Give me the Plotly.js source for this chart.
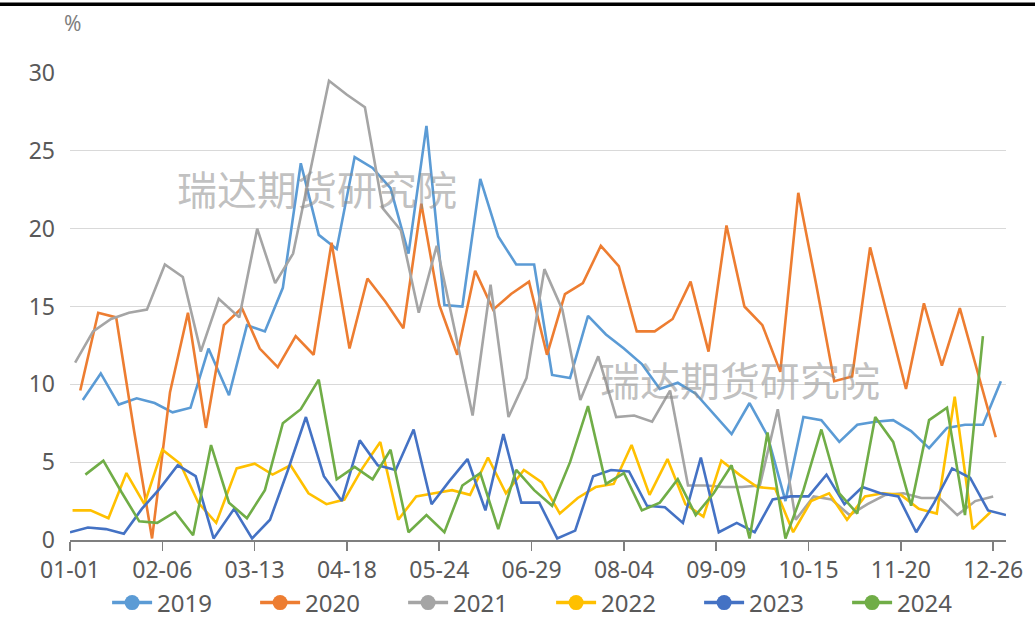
<!DOCTYPE html>
<html>
<head>
<meta charset="utf-8">
<script src="https://cdn.plot.ly/plotly-3.0.1.min.js"></script>
<style>html,body{margin:0;padding:0;background:#fff;}#chart{width:1035px;height:620px;}</style>
</head>
<body>
<div id="chart"></div>
<script>
// Series names and colours
const years = ["2019", "2020", "2021", "2022", "2023", "2024"];
const colors = ["#5B9BD5", "#ED7D31", "#A5A5A5", "#FFC000", "#4472C4", "#70AD47"];

// Weekly dates (month-day) of each year's observations
const d2019 = ["01-06","01-13","01-20","01-27","02-03","02-10","02-17","02-24","03-03","03-10","03-17","03-24","03-31","04-07","04-14","04-21","04-28","05-05","05-12","05-19","05-26","06-02","06-09","06-16","06-23","06-30","07-07","07-14","07-21","07-28","08-04","08-11","08-18","08-25","09-01","09-08","09-15","09-22","09-29","10-06","10-13","10-20","10-27","11-03","11-10","11-17","11-24","12-01","12-08","12-15","12-22","12-29"];
const d2020 = ["01-05","01-12","01-19","01-26","02-02","02-09","02-16","02-23","03-01","03-08","03-15","03-22","03-29","04-05","04-12","04-19","04-26","05-03","05-10","05-17","05-24","05-31","06-07","06-14","06-21","06-28","07-05","07-12","07-19","07-26","08-02","08-09","08-16","08-23","08-30","09-06","09-13","09-20","09-27","10-04","10-11","10-18","10-25","11-01","11-08","11-15","11-22","11-29","12-06","12-13","12-20","12-27"];
const d2021 = ["01-03","01-10","01-17","01-24","01-31","02-07","02-14","02-21","02-28","03-07","03-14","03-21","03-28","04-04","04-11","04-18","04-25","05-02","05-09","05-16","05-23","05-30","06-06","06-13","06-20","06-27","07-04","07-11","07-18","07-25","08-01","08-08","08-15","08-22","08-29","09-05","09-12","09-19","09-26","10-03","10-10","10-17","10-24","10-31","11-07","11-14","11-21","11-28","12-05","12-12","12-19","12-26"];
const d2022 = ["01-02","01-09","01-16","01-23","01-30","02-06","02-13","02-20","02-27","03-06","03-13","03-20","03-27","04-03","04-10","04-17","04-24","05-01","05-08","05-15","05-22","05-29","06-05","06-12","06-19","06-26","07-03","07-10","07-17","07-24","07-31","08-07","08-14","08-21","08-28","09-04","09-11","09-18","09-25","10-02","10-09","10-16","10-23","10-30","11-06","11-13","11-20","11-27","12-04","12-11","12-18","12-25"];
const d2023 = ["01-01","01-08","01-15","01-22","01-29","02-05","02-12","02-19","02-26","03-05","03-12","03-19","03-26","04-02","04-09","04-16","04-23","04-30","05-07","05-14","05-21","05-28","06-04","06-11","06-18","06-25","07-02","07-09","07-16","07-23","07-30","08-06","08-13","08-20","08-27","09-03","09-10","09-17","09-24","10-01","10-08","10-15","10-22","10-29","11-05","11-12","11-19","11-26","12-03","12-10","12-17","12-24","12-31"];
const d2024 = ["01-07","01-14","01-21","01-28","02-04","02-11","02-18","02-25","03-03","03-10","03-17","03-24","03-31","04-07","04-14","04-21","04-28","05-05","05-12","05-19","05-26","06-02","06-09","06-16","06-23","06-30","07-07","07-14","07-21","07-28","08-04","08-11","08-18","08-25","09-01","09-08","09-15","09-22","09-29","10-06","10-13","10-20","10-27","11-03","11-10","11-17","11-24","12-01","12-08","12-15","12-22"];

// Values (%)
const v2019 = [9.0,10.7,8.7,9.1,8.8,8.2,8.5,12.3,9.3,13.8,13.4,16.2,24.2,19.6,18.7,24.6,23.9,22.6,18.4,26.6,15.1,15.0,23.2,19.5,17.7,17.7,10.6,10.4,14.4,13.2,12.3,11.3,9.7,10.1,9.4,8.1,6.8,8.8,6.7,2.5,7.9,7.7,6.3,7.4,7.6,7.7,7.0,5.9,7.2,7.4,7.4,10.2];
const v2020 = [9.6,14.6,14.3,7.0,0.1,9.5,14.6,7.2,13.8,14.9,12.3,11.1,13.1,11.9,19.1,12.3,16.8,15.3,13.6,21.6,15.1,11.9,17.3,14.8,15.8,16.6,11.9,15.8,16.5,18.9,17.6,13.4,13.4,14.2,16.6,12.1,20.2,15.0,13.8,10.8,22.3,16.4,10.2,10.5,18.8,14.2,9.7,15.2,11.2,14.9,10.8,6.6];
const v2021 = [11.4,13.4,14.2,14.6,14.8,17.7,16.9,12.1,15.5,14.3,20.0,16.5,18.4,24.0,29.5,28.6,27.8,21.3,19.9,14.6,18.9,13.5,8.0,16.4,7.9,10.4,17.4,14.8,9.0,11.8,7.9,8.0,7.6,9.6,3.5,3.5,3.4,3.4,3.5,8.4,1.3,2.8,2.6,1.6,2.3,2.9,3.0,2.7,2.7,1.6,2.5,2.8];
const v2022 = [1.9,1.9,1.4,4.3,2.3,5.8,4.9,2.4,1.1,4.6,4.9,4.2,4.8,3.0,2.3,2.6,4.6,6.3,1.3,2.8,3.0,3.2,2.9,5.3,3.0,4.5,3.7,1.7,2.7,3.4,3.6,6.1,2.9,5.2,2.3,1.5,5.1,4.2,3.4,3.3,0.5,2.5,3.0,1.3,2.8,3.0,2.9,2.0,1.7,9.2,0.7,1.8];
const v2023 = [0.5,0.8,0.7,0.4,2.0,3.3,4.8,4.1,0.1,2.0,0.1,1.3,4.5,7.9,4.1,2.5,6.4,4.8,4.5,7.1,2.3,3.8,5.2,1.9,6.8,2.4,2.4,0.1,0.6,4.1,4.5,4.4,2.2,2.1,1.1,5.3,0.5,1.1,0.5,2.6,2.8,2.8,4.2,2.3,3.4,3.0,2.8,0.5,2.4,4.6,4.0,1.9,1.6];
const v2024 = [4.2,5.1,3.1,1.2,1.1,1.8,0.3,6.1,2.4,1.4,3.2,7.5,8.4,10.3,3.9,4.7,3.9,5.8,0.5,1.6,0.5,3.5,4.3,0.7,4.5,3.2,2.2,5.0,8.6,3.6,4.3,1.9,2.4,3.9,1.6,3.0,4.8,0.1,6.9,0.1,3.2,7.1,3.0,1.7,7.9,6.3,2.2,7.7,8.5,1.6,13.1];

// Axis tick labels
const tickLabels = ["01-01","02-06","03-13","04-18","05-24","06-29","08-04","09-09","10-15","11-20","12-26"];
const watermark = "瑞达期货研究院";

const dates = [d2019, d2020, d2021, d2022, d2023, d2024];
const values = [v2019, v2020, v2021, v2022, v2023, v2024];
const BASE = "2024-";
const FONT = "Noto Sans, Open Sans, sans-serif";
const TXT = "#595959";

const traces = [];
years.forEach((yr, i) => {
  traces.push({
    type: "scatter", mode: "lines", name: yr, showlegend: false,
    x: dates[i].map(d => BASE + d), y: values[i],
    line: {color: colors[i], width: 2.6}, hoverinfo: "skip"
  });
});
years.forEach((yr, i) => {
  traces.push({
    type: "scatter", mode: "lines+markers", name: yr, showlegend: true,
    x: [null], y: [null],
    line: {color: colors[i], width: 3.5},
    marker: {color: colors[i], size: 15, symbol: "circle"}
  });
});

const L = 70, R = 29, T = 73, B = 80;
const W = 1035 - L - R, H = 620 - T - B;
const px = x => (x - L) / W;
const py = y => (620 - B - y) / H;

const layout = {
  width: 1035, height: 620,
  margin: {l: L, r: R, t: T, b: B, autoexpand: false},
  paper_bgcolor: "#fff", plot_bgcolor: "#fff",
  font: {family: FONT, color: TXT, size: 24},
  xaxis: {
    type: "date",
    range: ["2024-01-01", "2024-12-31"],
    tickmode: "array",
    tickvals: tickLabels.map(t => BASE + t),
    ticktext: tickLabels,
    showgrid: false, zeroline: false,
    showline: true, linecolor: "#7F7F7F", linewidth: 1.6,
    ticks: "outside", ticklen: 9, tickwidth: 1.6, tickcolor: "#7F7F7F",
    tickfont: {family: FONT, size: 23, color: TXT}
  },
  yaxis: {
    range: [0, 30], dtick: 5, tick0: 0,
    showgrid: true, gridcolor: "#D9D9D9", gridwidth: 1.3,
    zeroline: false, showline: false, ticks: "",
    ticklabelstandoff: 14,
    tickfont: {family: FONT, size: 23, color: TXT}
  },
  showlegend: true,
  legend: {
    orientation: "h", x: 0.514, xanchor: "center", y: py(603), yanchor: "middle",
    font: {family: FONT, size: 24, color: TXT},
    entrywidth: 93, entrywidthmode: "pixels", itemwidth: 40,
    bgcolor: "rgba(0,0,0,0)"
  },
  annotations: [
    {xref: "paper", yref: "paper", x: px(72), y: py(23), text: "%", showarrow: false,
     xanchor: "center", yanchor: "middle", font: {family: FONT, size: 21, color: "#7F7F7F"}},
    {xref: "paper", yref: "paper", x: px(317), y: py(188), text: watermark, showarrow: false,
     xanchor: "center", yanchor: "middle", font: {family: "Noto Sans CJK SC", size: 40, color: "rgba(140,140,140,0.55)"}},
    {xref: "paper", yref: "paper", x: px(740), y: py(379), text: watermark, showarrow: false,
     xanchor: "center", yanchor: "middle", font: {family: "Noto Sans CJK SC", size: 40, color: "rgba(140,140,140,0.55)"}}
  ],
  shapes: [
    {type: "line", xref: "paper", yref: "paper", x0: px(0), x1: px(1035), y0: py(4.3), y1: py(4.3),
     line: {color: "#000", width: 3.5}}
  ]
};

Plotly.newPlot("chart", traces, layout, {staticPlot: true, displayModeBar: false});
</script>
</body>
</html>
